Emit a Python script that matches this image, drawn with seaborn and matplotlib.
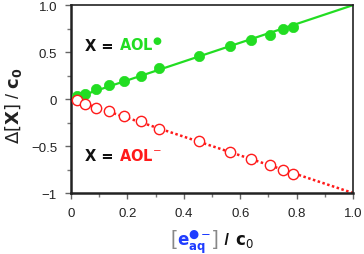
import numpy as np
import pandas as pd
import matplotlib
matplotlib.use("Agg")
import matplotlib.pyplot as plt
import seaborn as sns
from matplotlib.offsetbox import TextArea, HPacker, AnnotationBbox
from matplotlib.ticker import MultipleLocator, FuncFormatter

# data
x_vals = [0.02, 0.05, 0.089, 0.136, 0.189, 0.248, 0.313, 0.453, 0.564, 0.637, 0.706, 0.751, 0.786]
rad_vals = [0.035, 0.053, 0.106, 0.149, 0.195, 0.241, 0.326, 0.46, 0.567, 0.63, 0.684, 0.745, 0.77]
anion_vals = [-0.011, -0.053, -0.096, -0.124, -0.184, -0.231, -0.32, -0.45, -0.564, -0.635, -0.70, -0.755, -0.80]
fit_x = [0.0, 1.0]
fit_rad = [0.0, 1.0]
fit_anion = [0.0, -1.0]

GREEN = "#22dd22"
RED = "#ff1a1a"
BLUE = "#1f3cff"

sns.set_style("ticks")
plt.rcParams["font.family"] = ["Liberation Sans", "DejaVu Sans"]
plt.rcParams["mathtext.fontset"] = "dejavusans"

fig = plt.figure(figsize=(3.64, 2.55), dpi=100)
ax = fig.add_axes([0.195, 0.239, 0.775, 0.737])

df = pd.DataFrame({"x": x_vals, "rad": rad_vals, "anion": anion_vals})
fit = pd.DataFrame({"x": fit_x, "rad": fit_rad, "anion": fit_anion})

sns.lineplot(data=fit, x="x", y="rad", ax=ax, color=GREEN, lw=1.6, zorder=2)
sns.lineplot(data=fit, x="x", y="anion", ax=ax, color=RED, lw=1.8, zorder=2,
             linestyle=(0, (1, 1)))
sns.scatterplot(data=df, x="x", y="rad", ax=ax, color=GREEN, s=55, edgecolor=GREEN,
                linewidth=0.5, zorder=3)
sns.scatterplot(data=df, x="x", y="anion", ax=ax, facecolor="white", edgecolor=RED,
                s=55, linewidth=1.0, zorder=3)

ax.set_xlim(0, 1)
ax.set_ylim(-1, 1)
ax.xaxis.set_major_locator(MultipleLocator(0.2))
ax.xaxis.set_minor_locator(MultipleLocator(0.1))
ax.yaxis.set_major_locator(MultipleLocator(0.5))
ax.yaxis.set_minor_locator(MultipleLocator(0.25))

def fmt(v, pos):
    if abs(v) < 1e-9:
        return "0"
    if abs(v + 1) < 1e-9:
        return "\u22121"
    s = f"{v:.1f}"
    return s.replace("-", "\u2212")

ax.xaxis.set_major_formatter(FuncFormatter(fmt))
ax.yaxis.set_major_formatter(FuncFormatter(fmt))

ax.tick_params(which="major", direction="out", length=4, width=1, color="#666666",
               labelsize=9.5, labelcolor="#222222", pad=6)
ax.tick_params(which="minor", direction="out", length=3, width=1, color="#777777",
               bottom=True, left=True)

for side in ["left", "bottom"]:
    ax.spines[side].set_linewidth(1.8)
    ax.spines[side].set_color("#222222")
for side in ["top", "right"]:
    ax.spines[side].set_linewidth(1.2)
    ax.spines[side].set_color("#222222")

ax.set_xlabel("")
ax.set_ylabel(r"$\Delta\left[\mathbf{X}\right]$ / $\mathbf{c_0}$", fontsize=13,
              color="#222222")
ax.yaxis.set_label_coords(-0.165, 0.47)

def packed(parts, xy, align=(0, 0.5), sep=0):
    boxes = [TextArea(t, textprops=p) for t, p in parts]
    hp = HPacker(children=boxes, align="baseline", pad=0, sep=sep)
    ab = AnnotationBbox(hp, xy, xycoords="axes fraction", frameon=False,
                        box_alignment=align, pad=0)
    ax.add_artist(ab)

DOT = "\u25CF"
bold = dict(fontsize=10.5, fontweight="bold", color="#111111", family="DejaVu Sans")
packed([(r"X = ", bold),
        ("AOL$^{" + DOT + "}$", dict(fontsize=10.5, fontweight="bold", color=GREEN,
                                    family="DejaVu Sans"))],
       (0.05, 0.79))
packed([(r"X = ", bold),
        ("AOL$^{\u2212}$", dict(fontsize=10.5, fontweight="bold", color=RED,
                               family="DejaVu Sans"))],
       (0.05, 0.205))

# x label
packed([("[", dict(fontsize=15, color="#888888")),
        ("$\\mathbf{e}_{\\mathbf{aq}}^{" + DOT + "\u2212}$", dict(fontsize=12, color=BLUE)),
        ("]", dict(fontsize=15, color="#888888")),
        (" / ", dict(fontsize=11.5, fontweight="bold", color="#111111")),
        (r"$\mathbf{c}_{0}$", dict(fontsize=12, color="#111111"))],
       (0.5, -0.255), align=(0.5, 0.5), sep=1)

fig.savefig("out.png", dpi=100)
